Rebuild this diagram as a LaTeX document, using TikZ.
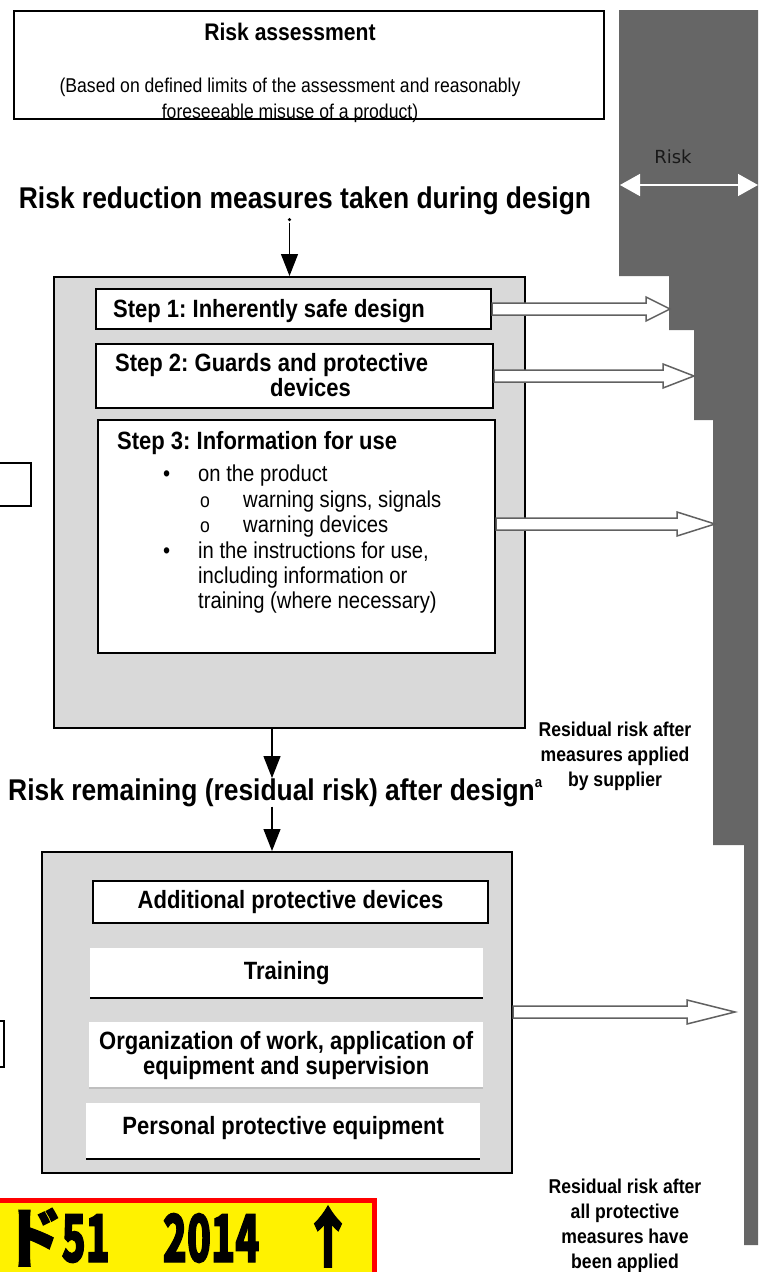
\documentclass[tikz,border=0pt]{standalone}
\usepackage{fontspec}
\setmainfont{Liberation Sans}[FakeStretch=0.88]
\newfontfamily\riskfont{DejaVu Sans}
\newfontfamily\cjk{Noto Sans CJK JP}[FakeStretch=0.60,FakeBold=1.6]
\usetikzlibrary{arrows.meta,calc}
\frenchspacing

\newlength{\du}
\setlength{\du}{1pt}

\definecolor{bandgrey}{rgb}{0.400000, 0.400000, 0.400000}
\definecolor{panelgrey}{rgb}{0.850000, 0.850000, 0.850000}
\definecolor{shaftgrey}{rgb}{0.380000, 0.380000, 0.380000}

\tikzset{
  panel/.style={draw=black, fill=panelgrey, line width=2\du, inner sep=0pt, anchor=north west},
  stepbox/.style={draw=black, fill=white, line width=2\du, inner sep=0pt, anchor=north west},
  plainbox/.style={fill=white, inner sep=0pt, anchor=north west, align=center},
  boxtext/.style={font=\fontsize{25}{30}\selectfont\bfseries},
  headtext/.style={font=\fontsize{30}{34}\selectfont\bfseries, inner sep=0pt},
  notetext/.style={font=\fontsize{20}{25}\selectfont\bfseries, align=center, inner sep=0pt},
  flow/.style={line width=1.2\du, -{Triangle[length=22pt,width=17pt]}},
  hollowarrow/.style={draw=shaftgrey, fill=white, line width=1.5\du,
    to path={let \p1=(\tikztostart), \p2=(\tikztotarget) in
      (\x1,\y1+6\du) -- (\x2-#1,\y1+6\du) -- (\x2-#1,\y1+12\du) -- (\x2,\y1)
      -- (\x2-#1,\y1-12\du) -- (\x2-#1,\y1-6\du) -- (\x1,\y1-6\du) -- cycle}},
  hollowarrow/.default=28\du
}

\begin{document}
\begin{tikzpicture}
\useasboundingbox (0,0) rectangle (758\du,-1272\du);

% risk band
\fill[bandgrey] (619\du,-10\du) -- (758\du,-10\du) -- (758\du,-1245\du) -- (744\du,-1245\du)
  -- (744\du,-845\du) -- (713\du,-845\du) -- (713\du,-420\du) -- (694\du,-420\du)
  -- (694\du,-330\du) -- (669\du,-330\du) -- (669\du,-276\du) -- (619\du,-276\du) -- cycle;
\node[font=\riskfont\fontsize{18}{20}\selectfont, text=black!90] (risk) at (673\du,-157\du) {Risk};
\coordinate (riskL) at (620\du,-185\du);
\coordinate (riskR) at (758\du,-185\du);
\draw[white, line width=1.5\du, {Triangle[length=20pt,width=22pt]}-{Triangle[length=20pt,width=22pt]}] (riskL) -- (riskR);

% risk assessment
\node[stepbox, minimum width=590\du, minimum height=108\du] (assess) at (13\du,-10\du) {};
\node[font=\fontsize{24}{28}\selectfont\bfseries, anchor=base, inner sep=0pt] (assesstitle) at (290\du,-40\du) {Risk assessment};
\node[font=\fontsize{20}{25}\selectfont, anchor=base, inner sep=0pt] (limits) at (290\du,-92\du) {(Based on defined limits of the assessment and reasonably};
\node[font=\fontsize{20}{25}\selectfont, anchor=base, inner sep=0pt] (misuse) at (290\du,-118\du) {foreseeable misuse of a product)};

% design stage
\node[headtext, anchor=base] (design) at (305\du,-208\du) {Risk reduction measures taken during design};
\node[panel, minimum width=471\du, minimum height=451\du] (box1) at (53\du,-276\du) {};
\fill ([yshift=-5\du]design.south -| box1.north) circle (1.8\du);
\draw[flow] ([yshift=-8\du]design.south -| box1.north) -- (box1.north);

\node[stepbox, minimum width=395\du, minimum height=40\du] (step1) at (95\du,-288\du) {};
\node[boxtext, anchor=base west, inner sep=0pt] (step1text) at (113\du,-317\du) {Step 1: Inherently safe design};
\node[stepbox, minimum width=397\du, minimum height=64\du] (step2) at (95\du,-343\du) {};
\node[boxtext, anchor=base west, inner sep=0pt] (step2text) at (115\du,-371\du) {Step 2: Guards and protective};
\node[boxtext, anchor=base west, inner sep=0pt] (step2more) at (270\du,-396\du) {devices};
\node[stepbox, minimum width=397\du, minimum height=233\du] (step3) at (97\du,-419\du) {};
\node[boxtext, anchor=base west, inner sep=0pt] (step3text) at (117\du,-449\du) {Step 3: Information for use};
\node[font=\fontsize{23}{25.4}\selectfont, align=left, anchor=north west, inner sep=0pt] (step3list) at (163\du,-465\du) {%
\makebox[35\du][l]{\textbullet}on the product\\
\hspace*{37\du}\makebox[43\du][l]{\fontsize{20}{20}\selectfont o}warning signs, signals\\
\hspace*{37\du}\makebox[43\du][l]{\fontsize{20}{20}\selectfont o}warning devices\\
\makebox[35\du][l]{\textbullet}in the instructions for use,\\
\hspace*{35\du}including information or\\
\hspace*{35\du}training (where necessary)};

\coordinate (tip1) at (670\du,-307\du);
\coordinate (tip2) at (694\du,-374\du);
\coordinate (tip3) at (715\du,-524\du);
\draw[hollowarrow=24\du] (step1.east) to (tip1);
\draw[hollowarrow=31\du] (step2.east) to (tip2);
\draw[hollowarrow=38\du] (step3.east |- tip3) to (tip3);

\node[notetext] (supplier) at (615\du,-756\du) {Residual risk after\\measures applied\\by supplier};

% residual risk
\coordinate (axis) at (272\du,0);
\node[headtext, anchor=base west] (residual) at (8\du,-800\du) {Risk remaining (residual risk) after design\raisebox{13\du}{\fontsize{15}{15}\selectfont a}};
\draw[flow] (box1.south -| axis) -- (residual.north -| axis);
\node[panel, minimum width=470\du, minimum height=321\du] (box2) at (41\du,-851\du) {};
\draw[flow] (residual.south -| axis) -- (box2.north -| axis);

\node[stepbox, boxtext, minimum width=395\du, minimum height=42\du] (devices) at (92\du,-880\du) {Additional protective devices};
\node[plainbox, boxtext, minimum width=393\du, minimum height=50\du] (training) at (90\du,-948\du) {Training};
\draw[line width=2\du] (training.south west) -- (training.south east);
\node[plainbox, boxtext, font=\fontsize{25}{25}\selectfont\bfseries, minimum width=394\du, minimum height=66\du] (organize) at (89\du,-1022\du) {Organization of work, application of\\equipment and supervision};
\draw[black!25, line width=2\du] (organize.south west) -- (organize.south east);
\node[plainbox, boxtext, minimum width=394\du, minimum height=56\du, text depth=12\du] (ppe) at (86\du,-1103\du) {Personal protective equipment};
\draw[line width=2\du] (ppe.south west) -- (ppe.south east);

\coordinate (tip4) at (735\du,-1012\du);
\draw[hollowarrow=48\du] (box2.east |- tip4) to (tip4);

\node[notetext] (applied) at (625\du,-1226\du) {Residual risk after\\all protective\\measures have\\been applied};

% side boxes
\node[stepbox, line width=1.5\du, minimum width=36\du, minimum height=43\du] (sideA) at (-6\du,-462\du) {};
\node[stepbox, line width=1.5\du, minimum width=9\du, minimum height=46\du] (sideB) at (-6\du,-1020\du) {};

% guide label
\node[draw=red, fill=yellow, line width=5\du, minimum width=390\du, minimum height=90\du, anchor=north east] (banner) at (377\du,-1198\du) {};
\node[font=\cjk\bfseries\fontsize{66}{70}\selectfont, anchor=base west, inner sep=0pt] (guide) at (4\du,-1262\du) {\scalebox{1.45}[1]{ド}51\hspace{53\du}2014\hspace{41\du}\scalebox{1.4}[1]{↑}};
\end{tikzpicture}
\end{document}
